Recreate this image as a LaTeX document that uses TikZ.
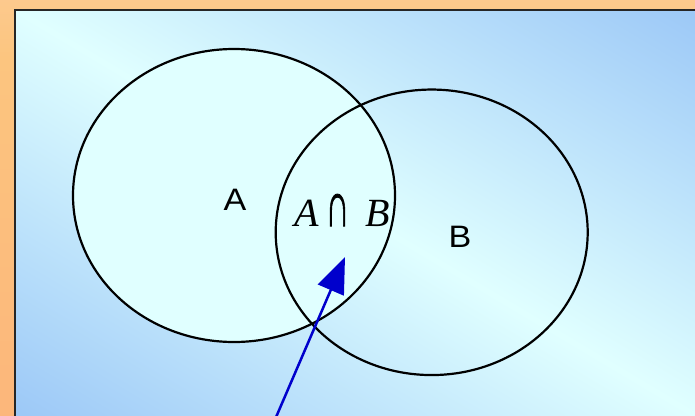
\documentclass[tikz,border=0pt]{standalone}
\usepackage{fontspec}
\usepackage{graphicx}
\setmainfont{Liberation Serif}
\newfontfamily\labelsans{Liberation Sans}
\newfontfamily\capfont[FakeBold=1.4]{Liberation Serif}
\usetikzlibrary{arrows.meta,shapes.geometric}
\definecolor{orT}{HTML}{FFD9BE}
\definecolor{orM}{HTML}{FCC57F}
\definecolor{orB}{HTML}{FCAE78}
\definecolor{lightcy}{HTML}{E0FFFF}
\definecolor{skyb}{HTML}{9CC8F7}
\definecolor{arrowblue}{HTML}{0000CC}
\pgfdeclareverticalshading{outerbg}{100bp}{color(0bp)=(orB); color(68bp)=(orM); color(100bp)=(orT)}
\tikzset{
  setshape/.style={ellipse, draw=black, line width=2.2pt, inner sep=0pt},
  setlabel/.style={font=\labelsans\fontsize{31}{36}\selectfont, anchor=base, inner sep=0pt},
  mathlabel/.style={font=\itshape\fontsize{40}{48}\selectfont, anchor=base west, inner sep=0pt},
  pointer/.style={draw=arrowblue, line width=2.5pt, -{Triangle[length=36pt,width=28pt,fill=arrowblue]}}
}
\begin{document}
\begin{tikzpicture}[x=1pt,y=-1pt]
\useasboundingbox (0,0) rectangle (695,415);
\shade[shading=outerbg] (0,0) rectangle (695,415);
\begin{scope}
  \clip (14.5,9.5) rectangle (700,420);
  \begin{scope}[transform canvas={rotate around={-30.8:(354.5,212)}}]
    \shade[top color=skyb, bottom color=skyb, middle color=lightcy] (-150,-137) rectangle (859,561);
  \end{scope}
\end{scope}
\draw[line width=2pt, draw=black!85] (14.5,9.5) rectangle (720,440);
% sets
\node[setshape, fill=lightcy, minimum width=322pt, minimum height=293pt] (setA) at (234,195.5) {};
\node[setshape, minimum width=312pt, minimum height=285.5pt] (setB) at (431.7,232.3) {};
% labels
\node[setlabel] (labA) at (235,210.5) {\scalebox{1.1}[1]{A}};
\node[setlabel] (labB) at (460,247) {\scalebox{1.1}[1]{B}};
\node[mathlabel] (intA) at (294,226) {A};
\node[anchor=base, inner sep=0pt, font=\capfont\fontsize{40}{48}\selectfont] (intCap) at (337.5,226) {\resizebox{24pt}{32pt}{∩}};
\node[mathlabel] (intB) at (365,226) {B};
% arrow
\coordinate (arrowtail) at (270.5,430);
\coordinate (arrowtip) at (345,257);
\draw[pointer] (arrowtail) -- (arrowtip);
\end{tikzpicture}
\end{document}
